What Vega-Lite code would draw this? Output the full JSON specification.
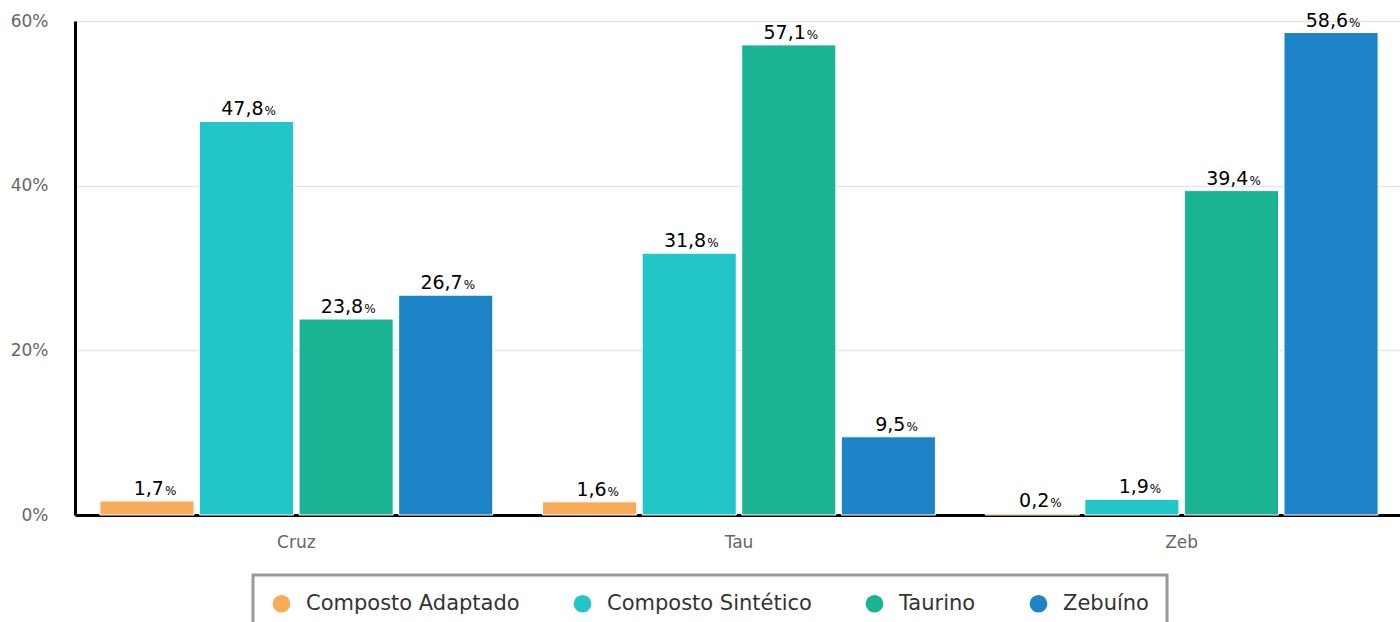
{
  "$schema": "https://vega.github.io/schema/vega-lite/v6.json",
  "width": 1328,
  "height": 494,
  "autosize": {"type": "none"},
  "padding": {"left": 75, "top": 21, "right": 0, "bottom": 107},
  "config": {
    "view": {"stroke": null},
    "font": "DejaVu Sans",
    "legend": {"strokeWidth": 3}
  },
  "data": {
    "values": [
      {"grupo": "Cruz", "raca": "Composto Adaptado", "valor": 1.7},
      {"grupo": "Cruz", "raca": "Composto Sintético", "valor": 47.8},
      {"grupo": "Cruz", "raca": "Taurino", "valor": 23.8},
      {"grupo": "Cruz", "raca": "Zebuíno", "valor": 26.7},
      {"grupo": "Tau", "raca": "Composto Adaptado", "valor": 1.6},
      {"grupo": "Tau", "raca": "Composto Sintético", "valor": 31.8},
      {"grupo": "Tau", "raca": "Taurino", "valor": 57.1},
      {"grupo": "Tau", "raca": "Zebuíno", "valor": 9.5},
      {"grupo": "Zeb", "raca": "Composto Adaptado", "valor": 0.2},
      {"grupo": "Zeb", "raca": "Composto Sintético", "valor": 1.9},
      {"grupo": "Zeb", "raca": "Taurino", "valor": 39.4},
      {"grupo": "Zeb", "raca": "Zebuíno", "valor": 58.6}
    ]
  },
  "encoding": {
    "x": {
      "field": "grupo", "type": "nominal", "sort": ["Cruz", "Tau", "Zeb"],
      "scale": {"paddingInner": 0, "paddingOuter": 0},
      "axis": {
        "title": null, "labelAngle": 0, "ticks": false, "labelPadding": 19,
        "labelFontSize": 17, "labelColor": "#666", "labelFont": "DejaVu Sans",
        "domainColor": "#000", "domainWidth": 3, "grid": false
      }
    },
    "xOffset": {
      "field": "raca", "type": "nominal",
      "sort": ["Composto Adaptado", "Composto Sintético", "Taurino", "Zebuíno"],
      "scale": {"paddingInner": 0.055, "paddingOuter": 0.25}
    },
    "y": {
      "field": "valor", "type": "quantitative",
      "scale": {"domain": [0, 60], "nice": false},
      "axis": {
        "title": null, "values": [0, 20, 40, 60], "labelExpr": "datum.value + '%'",
        "ticks": false, "labelPadding": 27, "labelFontSize": 17, "labelColor": "#666",
        "labelFont": "DejaVu Sans",
        "domainColor": "#000", "domainWidth": 3,
        "gridColor": "#e6e6e6", "gridWidth": 1.5
      }
    }
  },
  "layer": [
    {
      "mark": {"type": "bar", "stroke": "white", "strokeWidth": 1},
      "encoding": {
        "color": {
          "field": "raca", "type": "nominal",
          "sort": ["Composto Adaptado", "Composto Sintético", "Taurino", "Zebuíno"],
          "scale": {
            "domain": ["Composto Adaptado", "Composto Sintético", "Taurino", "Zebuíno"],
            "range": ["#f8ac59", "#23c6c8", "#1ab394", "#1c84c6"]
          },
          "legend": {
            "title": null, "orient": "none", "legendX": 178, "legendY": 554,
            "direction": "horizontal", "columns": 4,
            "symbolType": "circle", "symbolSize": 314, "symbolStrokeWidth": 0, "symbolOpacity": 1,
            "labelFontSize": 21, "labelColor": "#333", "labelFont": "DejaVu Sans", "labelOffset": 14,
            "labelLimit": 0,
            "columnPadding": 52, "padding": 18,
            "strokeColor": "#999"
          }
        }
      }
    },
    {
      "mark": {"type": "text", "align": "right", "baseline": "alphabetic", "dx": 17, "dy": -6, "fontSize": 19, "color": "#000", "font": "DejaVu Sans",
        "text": {"expr": "replace(format(datum.valor, '.1f'), '.', ',')"}},
      "encoding": {}
    },
    {
      "mark": {"type": "text", "align": "left", "baseline": "alphabetic", "dx": 18, "dy": -6, "fontSize": 12, "color": "#000", "font": "DejaVu Sans"},
      "encoding": {"text": {"value": "%"}}
    }
  ]
}
